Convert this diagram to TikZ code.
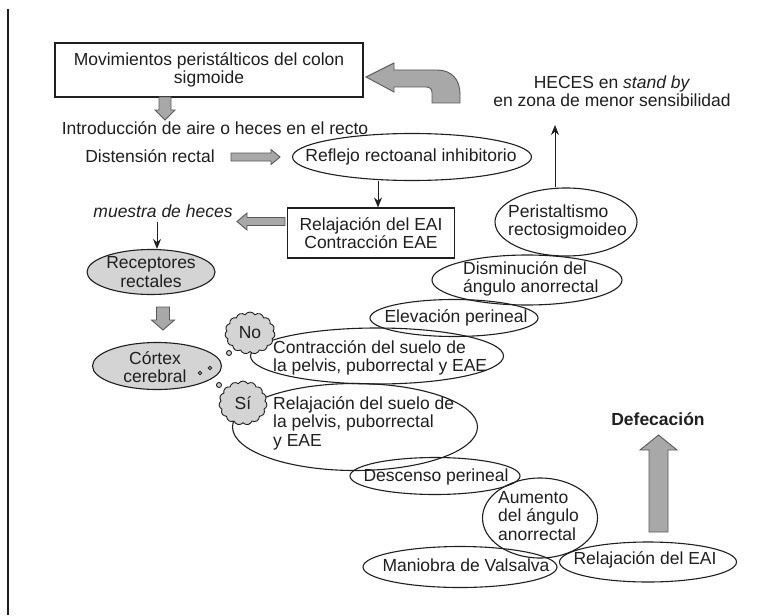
\documentclass[tikz,border=0pt]{standalone}
\usepackage{fontspec}
\setmainfont{Liberation Sans}
\usetikzlibrary{shapes.geometric,shapes.symbols,arrows.meta,calc}
\newcommand\fs{\fontsize{17.5}{18.5}\selectfont}
\definecolor{ink}{gray}{0.12}
\definecolor{lgray}{gray}{0.83}
\definecolor{agray}{gray}{0.66}
\definecolor{aedge}{gray}{0.35}
\tikzset{
  box/.style={draw=ink, line width=1.1pt, rectangle, inner sep=0pt, align=center, font=\fs, text=ink},
  oval/.style={draw=ink, line width=1.1pt, ellipse, inner sep=0pt},
  grayoval/.style={oval, fill=lgray},
  txt/.style={inner sep=0pt, align=center, font=\fs, text=ink},
  ltxt/.style={inner sep=0pt, align=left, font=\fs, text=ink, anchor=west},
  blk/.style={draw=ink, line width=1pt, -{Stealth[length=10pt,width=8pt]}},
  garrow/.style={draw=aedge, line width=0.9pt, fill=agray, line join=miter},
  thought/.style={cloud, cloud puffs=15, cloud puff arc=120, draw=ink, line width=0.9pt, fill=lgray, inner sep=0pt, font=\fs, text=ink},
  bubble/.style={circle, draw=ink, line width=0.9pt, fill=lgray, inner sep=0pt, minimum size=5pt},
  dot/.style={circle, draw=ink, line width=0.8pt, fill=lgray, inner sep=0pt, minimum size=3.6pt}
}
\begin{document}
\begin{tikzpicture}[x=1pt,y=1pt]
\useasboundingbox (0,0) rectangle (775,-615);
\fill[white] (0,0) rectangle (775,-615);
% left rule
\draw[ink, line width=1.6pt] (8,-9) -- (8,-615);

% top box
\node[box, minimum width=308pt, minimum height=54pt] (box1) at (209,-70)
  {Movimientos peristálticos del colon\\sigmoide};
\node[txt] (intro) at (215,-128) {Introducción de aire o heces en el recto};
\node[txt] (disten) at (150,-156) {Distensión rectal};
\node[oval, minimum width=239pt, minimum height=47pt] (reflejo) at (412,-157) {};
\node[txt] (reflejoT) at (411,-157) {Reflejo rectoanal inhibitorio};
\node[box, minimum width=167pt, minimum height=50pt] (box2) at (371,-233)
  {Relajación del EAI\\Contracción EAE};
\node[txt, font=\fs\itshape] (muestra) at (163,-211) {muestra de heces};
\node[grayoval, minimum width=128pt, minimum height=45pt] (recept) at (151,-272) {};
\node[txt] (receptT) at (151,-272) {Receptores\\rectales};
\node[grayoval, minimum width=129pt, minimum height=47pt] (cortex) at (157,-366) {};
\node[txt] (cortexT) at (155,-367) {Córtex\\cerebral};
\node[dot] (d1) at (200,-373) {};
\node[dot] (d2) at (210,-368) {};

% heces stand by
\node[txt] (heces) at (612,-91) {HECES en \textit{stand by}\\en zona de menor sensibilidad};

% right chain of ellipses
\node[oval, minimum width=142pt, minimum height=68pt] (perist) at (566,-222) {};
\node[ltxt] (peristT) at (508,-222) {Peristaltismo\\rectosigmoideo};
\node[oval, minimum width=190pt, minimum height=50pt] (dismin) at (527,-280) {};
\node[ltxt] (disminT) at (463,-279) {Disminución del\\ángulo anorrectal};
\node[oval, minimum width=168pt, minimum height=37pt] (elev) at (454,-318) {};
\node[txt] (elevT) at (456,-318) {Elevación perineal};
\node[oval, minimum width=253pt, minimum height=56pt] (contr) at (377,-356) {};
\node[ltxt] (contrT) at (273,-358) {Contracción del suelo de\\la pelvis, puborrectal y EAE};
\node[oval, minimum width=245pt, minimum height=87pt] (relsuelo) at (355,-427) {};
\node[ltxt] (relsueloT) at (273,-423) {Relajación del suelo de\\la pelvis, puborrectal\\y EAE};
\node[oval, minimum width=170pt, minimum height=37pt] (desc) at (435,-476) {};
\node[txt] (descT) at (436,-477) {Descenso perineal};
\node[oval, minimum width=115pt, minimum height=80pt] (aumento) at (540,-518) {};
\node[ltxt] (aumentoT) at (498,-516) {Aumento\\del ángulo\\anorrectal};
\node[oval, minimum width=194pt, minimum height=41pt] (manio) at (460,-567) {};
\node[txt] (manioT) at (466,-565) {Maniobra de Valsalva};
\node[oval, minimum width=177pt, minimum height=40pt] (releai) at (648,-562) {};
\node[txt] (releaiT) at (645,-560) {Relajación del EAI};
\node[txt, font=\fs\bfseries] (defec) at (658,-419) {Defecación};

% thought clouds
\node[thought, minimum width=50pt, minimum height=42pt] (no) at (250,-333) {No};
\node[thought, minimum width=48pt, minimum height=44pt] (si) at (243,-403) {Sí};
\node[bubble] (b1) at (229,-353) {};
\node[bubble] (b2) at (219,-385) {};

% thin black connectors
\coordinate (ax1) at (378,0);
\coordinate (ax2) at (157,0);
\coordinate (ax3) at (555,0);
\coordinate (hecesTip) at (555,-125);
\draw[blk] (reflejo.south -| ax1) -- (box2.north -| ax1);
\draw[blk] ([yshift=-4pt]muestra.south -| ax2) -- (recept.north -| ax2);
\draw[blk] (perist.north -| ax3) -- (hecesTip);

% gray block arrows
% box1 -> intro (down)
\draw[garrow] (159,-97) -- (171,-97) -- (171,-110) -- (175,-110) -- (165,-120) -- (155,-110) -- (159,-110) -- cycle;
% disten -> reflejo (right)
\draw[garrow] (231,-153) -- (271,-153) -- (271,-149.5) -- (280,-157) -- (271,-164.5) -- (271,-161) -- (231,-161) -- cycle;
% box2 -> muestra (left)
\draw[garrow] (285,-217.5) -- (247,-217.5) -- (247,-213) -- (237,-221.5) -- (247,-230) -- (247,-225.5) -- (285,-225.5) -- cycle;
% recept -> cortex (down)
\draw[garrow] (156.5,-307) -- (169.5,-307) -- (169.5,-320) -- (174.5,-320) -- (163,-330) -- (151.5,-320) -- (156.5,-320) -- cycle;
% releai -> defecacion (up)
\draw[garrow] (649,-532) -- (668,-532) -- (668,-450) -- (677,-450) -- (658.5,-435) -- (640,-450) -- (649,-450) -- cycle;
% curved return arrow towards box1
\draw[garrow] (366,-77) -- (394,-63) -- (394,-70) -- (437,-70)
  .. controls (452,-70) and (460,-80) .. (460,-94) -- (460,-103) -- (432,-103) -- (432,-93)
  .. controls (432,-89) and (430,-87) .. (426,-87) -- (394,-87) -- (394,-92) -- cycle;
\end{tikzpicture}
\end{document}
